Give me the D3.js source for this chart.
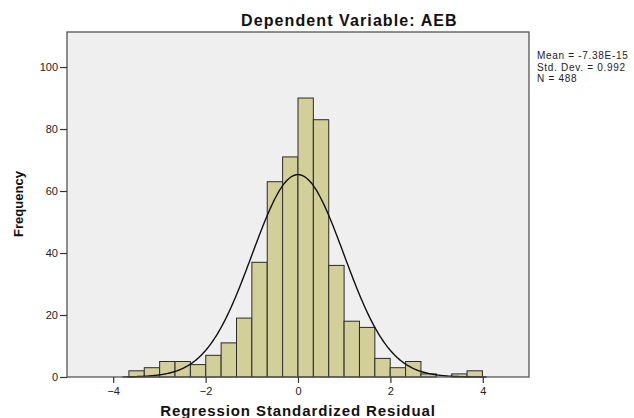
<!DOCTYPE html>
<html>
<head>
<meta charset="utf-8">
<script src="https://cdn.jsdelivr.net/npm/d3@7"></script>
<style>
  body { margin: 0; background: #fff; }
  svg text { font-family: "Liberation Sans", Arial, sans-serif; }
</style>
</head>
<body>
<svg id="chart" width="634" height="418"></svg>
<script>
// histogram bins (lower edge of first bin + width) and counts
var binStart = -3.66;
var binWidth = 0.3327;
var counts = [2, 3, 5, 5, 4, 7, 11, 19, 37, 63, 71, 90, 83, 36, 18, 16, 6, 3, 5, 1, 0, 1, 2];
var xTicks = [-4, -2, 0, 2, 4];
var yTicks = [0, 20, 40, 60, 80, 100];
var stats = ["Mean = -7.38E-15", "Std. Dev. = 0.992", "N = 488"];
var mean = -7.38e-15, sd = 0.992, n = 488;

var svg = d3.select("#chart"),
  margin = {left: 67, top: 32, right: 105, bottom: 41},
  width = 634 - margin.left - margin.right,
  height = 418 - margin.top - margin.bottom;

var x = d3.scaleLinear().domain([-5, 5]).range([0, width]);
var y = d3.scaleLinear().domain([0, 111.3]).range([height, 0]);

var g = svg.append("g").attr("transform", "translate(" + margin.left + "," + margin.top + ")");

g.append("rect")
  .attr("width", width).attr("height", height)
  .attr("fill", "#efefef");

var bins = counts.map(function(c, i) {
  return {x0: binStart + i * binWidth, x1: binStart + (i + 1) * binWidth, n: c};
});

g.selectAll("rect.bar")
  .data(bins.filter(function(d) { return d.n > 0; }))
  .enter().append("rect")
  .attr("class", "bar")
  .attr("x", function(d) { return x(d.x0); })
  .attr("width", function(d) { return x(d.x1) - x(d.x0); })
  .attr("y", function(d) { return y(d.n); })
  .attr("height", function(d) { return y(0) - y(d.n); })
  .attr("fill", "#d3cf98")
  .attr("stroke", "#2b2b2b")
  .attr("stroke-width", 1);

// normal curve scaled to counts
var pts = d3.range(-5, 5.001, 0.02).map(function(v) {
  var z = (v - mean) / sd;
  return [v, n * binWidth * Math.exp(-0.5 * z * z) / (sd * Math.sqrt(2 * Math.PI))];
});
var line = d3.line()
  .x(function(d) { return x(d[0]); })
  .y(function(d) { return y(d[1]); })
  .curve(d3.curveBasis);
g.append("path")
  .datum(pts.filter(function(d) { return x(d[0]) >= 55 && x(d[0]) <= 420; }))
  .attr("d", line)
  .attr("fill", "none")
  .attr("stroke", "#111")
  .attr("stroke-width", 1.4);

// frame
g.append("rect")
  .attr("width", width).attr("height", height)
  .attr("fill", "none")
  .attr("stroke", "#555")
  .attr("stroke-width", 1.3);

var xAxis = g.append("g")
  .attr("transform", "translate(0," + height + ")")
  .call(d3.axisBottom(x).tickValues(xTicks).tickSize(6).tickPadding(4));
var yAxis = g.append("g")
  .call(d3.axisLeft(y).tickValues(yTicks).tickSize(7).tickPadding(2));

[xAxis, yAxis].forEach(function(a) {
  a.select(".domain").remove();
  a.selectAll("line").attr("stroke", "#333").attr("stroke-width", 1.2);
  a.selectAll("text").attr("fill", "#222").style("font-size", "11px")
    .style("font-family", "Liberation Sans, Arial, sans-serif");
});

svg.append("text")
  .attr("x", 241).attr("y", 26)
  .attr("font-weight", "bold").attr("font-size", "16px")
  .attr("letter-spacing", "1.1px")
  .attr("fill", "#111")
  .text("Dependent Variable: AEB");

svg.append("text")
  .attr("x", margin.left + x(0)).attr("y", 416)
  .attr("text-anchor", "middle")
  .attr("font-weight", "bold").attr("font-size", "15px")
  .attr("letter-spacing", "0.9px")
  .attr("fill", "#111")
  .text("Regression Standardized Residual");

svg.append("text")
  .attr("transform", "translate(23,204) rotate(-90)")
  .attr("text-anchor", "middle")
  .attr("font-weight", "bold").attr("font-size", "13px")
  .attr("fill", "#111")
  .text("Frequency");

svg.append("g").selectAll("text")
  .data(stats)
  .enter().append("text")
  .attr("x", 537)
  .attr("y", function(d, i) { return 59 + i * 11.5; })
  .attr("font-size", "10px")
  .attr("letter-spacing", "0.7px")
  .attr("fill", "#222")
  .text(function(d) { return d; });
</script>
</body>
</html>
